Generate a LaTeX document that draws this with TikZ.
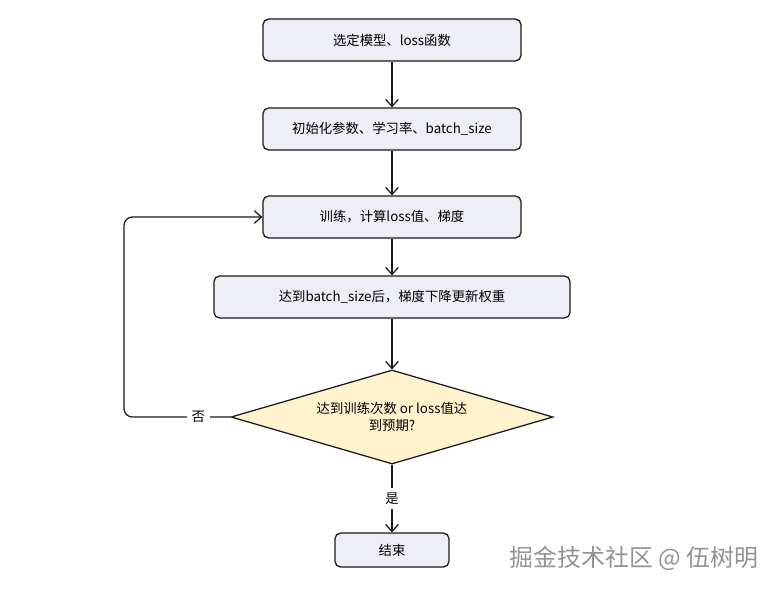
\documentclass[tikz,border=0pt]{standalone}
\usepackage{fontspec}
\setmainfont{Noto Sans CJK SC}
\usepackage{tikz}
\usetikzlibrary{shapes.geometric,arrows.meta,positioning}
\definecolor{boxfill}{HTML}{EEEEF6}
\definecolor{decfill}{HTML}{FFF2CC}
\definecolor{edge}{HTML}{1A1A1A}
\tikzset{
  procbox/.style={draw=edge, line width=0.9pt, rounded corners=4pt, fill=boxfill,
    minimum height=1.05cm, font=\fontsize{9.5}{11}\selectfont},
  check/.style={draw=edge, line width=0.9pt, diamond, fill=decfill, aspect=3.4,
    inner sep=0pt, minimum width=8.05cm, minimum height=2.35cm,
    align=center, font=\fontsize{9.5}{12.5}\selectfont},
  flow/.style={draw=edge, line width=0.9pt, -{Straight Barb[length=5pt,width=9pt]}},
}
\begin{document}
\begin{tikzpicture}[x=0.025cm,y=-0.025cm]
\useasboundingbox (0,0) rectangle (783,592);
% steps
\node[procbox, minimum width=6.45cm] (model) at (392,40) {选定模型、loss函数};
\node[procbox, minimum width=6.45cm] (init) at (392,129) {初始化参数、学习率、batch\_size};
\node[procbox, minimum width=6.45cm] (train) at (392,217) {训练，计算loss值、梯度};
\node[procbox, minimum width=8.9cm] (update) at (392,297) {达到batch\_size后，梯度下降更新权重};
\node[check] (done) at (392,417) {达到训练次数 or loss值达\\到预期?};
\node[procbox, minimum width=2.85cm, minimum height=0.85cm] (stop) at (392,550) {结束};
% connectors
\draw[flow] (model) -- (init);
\draw[flow] (init) -- (train);
\draw[flow] (train) -- (update);
\draw[flow] (update) -- (done);
\draw[flow] (done) -- node[fill=white, font=\fontsize{9.5}{11}\selectfont] {是} (stop);
\coordinate (c1) at (124,417);
\coordinate (c2) at (124,217);
\draw[flow, rounded corners=6pt] (done.west) -- node[fill=white, font=\fontsize{9.5}{11}\selectfont, pos=0.3] {否} (c1) -- (c2) -- (train.west);
% watermark
\node[gray!85, font=\fontsize{17}{19}\selectfont] (mark) at (634,558) {掘金技术社区 @ 伍树明};
\end{tikzpicture}
\end{document}
